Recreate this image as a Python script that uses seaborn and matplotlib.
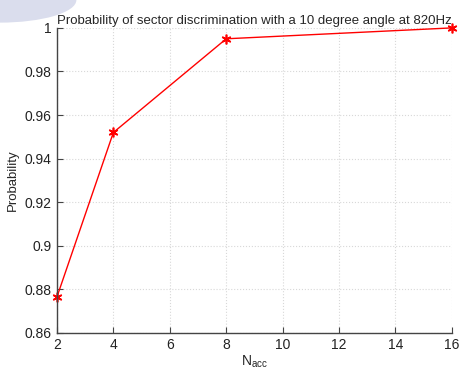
import numpy as np
import pandas as pd
import matplotlib
matplotlib.use("Agg")
import matplotlib.pyplot as plt
import seaborn as sns
from matplotlib.patches import Ellipse

# values
n_acc = [2, 4, 8, 16]
probability = [0.8765, 0.952, 0.995, 1.0]
x_ticks = [2, 4, 6, 8, 10, 12, 14, 16]
y_ticks = [0.86, 0.88, 0.9, 0.92, 0.94, 0.96, 0.98, 1.0]
y_tick_labels = ["0.86", "0.88", "0.9", "0.92", "0.94", "0.96", "0.98", "1"]

df = pd.DataFrame({"N": n_acc, "P": probability})

sns.set_theme(style="white")
plt.rcParams["font.family"] = ["Liberation Sans", "DejaVu Sans"]

fig = plt.figure(figsize=(4.63, 3.77), dpi=100)
fig.patch.set_facecolor("white")

# faint blob in the top-left corner of the original
blob = Ellipse((0.0, 1.0), 0.33, 0.12, transform=fig.transFigure,
               facecolor="#dadded", edgecolor="none", zorder=0)
fig.patches.append(blob)

ax = fig.add_axes([0.123, 0.117, 0.853, 0.809])
ax.set_facecolor("none")

sns.lineplot(data=df, x="N", y="P", ax=ax, color="red", linewidth=1,
             marker=(6, 2, 0), markersize=7, markeredgecolor="red",
             markeredgewidth=1.2, clip_on=False)

ax.set_xlim(2, 16)
ax.set_ylim(0.86, 1.0)
ax.set_xticks(x_ticks)
ax.set_yticks(y_ticks)
ax.set_yticklabels(y_tick_labels)

ax.grid(True, color="#d8d8d8", linestyle=":", linewidth=0.8)
for side in ["top", "right"]:
    ax.spines[side].set_visible(False)
for side in ["left", "bottom"]:
    ax.spines[side].set_color("#444444")
    ax.spines[side].set_linewidth(1)

ax.tick_params(direction="in", length=4, width=0.8, color="#444444",
               labelsize=10, labelcolor="#222222", pad=4,
               bottom=True, left=True)

ax.set_xlabel(r"N$_{\mathregular{acc}}$", fontsize=10, labelpad=1)
ax.set_ylabel("Probability", fontsize=9.5, labelpad=4)
ax.set_title("Probability of sector discrimination with a 10 degree angle at 820Hz",
             fontsize=9.5, pad=3)

fig.savefig("out.png", dpi=100)
